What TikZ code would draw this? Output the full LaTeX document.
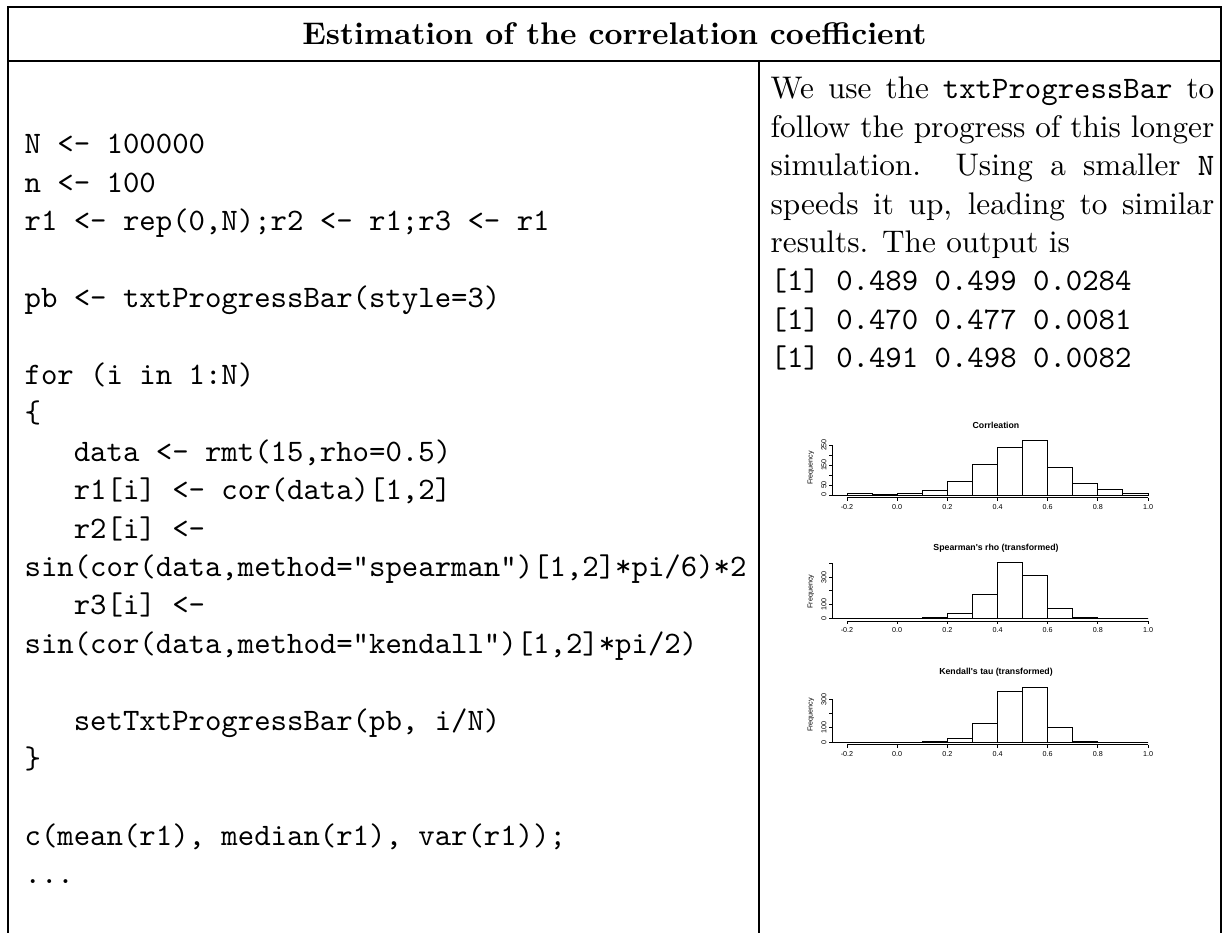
\documentclass[tikz,border=0pt]{standalone}
\usepackage{fontspec}
\newfontfamily\rsans{Liberation Sans}
\newcommand\myhist[8]{%
  \foreach \c [count=\i from 0] in {#4}{\draw[bar] ({847+25.083*\i},#2) rectangle ({872.083+25.083*\i},{#2-#3*\c});}
  \draw[bar] (832,#2) -- (1148,#2);
  \draw[bar] (832,#2) -- (832,{#2-#3*#5});
  \foreach \t in {0,#6,...,#5}{\draw[bar] (832,{#2-#3*\t}) -- (829,{#2-#3*\t});}
  \foreach \t in {#7}{\node[lbl,rotate=90] (#1y\t) at (824,{#2-#3*\t}) {\t};}
  \node[lbl,rotate=90] (#1f) at (811,{#2-27}) {Frequency};
  \draw[bar] (847,{#2+2.5}) -- (1148,{#2+2.5});
  \foreach \v/\l [count=\j] in {847/-0.2,897.2/0.0,947.3/0.2,997.5/0.4,1047.7/0.6,1097.8/0.8,1148/1.0}{%
    \draw[bar] (\v,{#2+2.5}) -- (\v,{#2+5.5});
    \node[lbl] (#1x\j) at (\v,{#2+12}) {\l};}
  \node[ttl] (#1t) at (996,{#2-70}) {#8};
}
\begin{document}
\begin{tikzpicture}[x=0.32pt,y=-0.32pt,
  code/.style={anchor=base west,inner sep=0pt,font=\ttfamily},
  txt/.style={anchor=base west,inner sep=0pt},
  rule/.style={line width=0.45pt},
  lbl/.style={inner sep=0pt,font=\rsans\fontsize{2.3}{2.8}\selectfont},
  ttl/.style={inner sep=0pt,font=\rsans\bfseries\fontsize{2.8}{3.3}\selectfont},
  bar/.style={line width=0.3pt}]
\useasboundingbox (0,0) rectangle (1222,933);
% table rules
\draw[rule] (8,933) -- (8,7) -- (1221,7) -- (1221,933);
\draw[rule] (8,61) -- (1221,61);
\draw[rule] (759,61) -- (759,933);
% title
\node[anchor=base,inner sep=0pt,font=\bfseries] (title) at (614.5,45) {Estimation of the correlation coefficient};
% code
\node[code] (c0) at (24,154) {N <- 100000};
\node[code] (c1) at (24,192.4) {n <- 100};
\node[code] (c2) at (24,230.8) {r1 <- rep(0,N);r2 <- r1;r3 <- r1};
\node[code] (c4) at (24,307.6) {pb <- txtProgressBar(style=3)};
\node[code] (c6) at (24,384.4) {for (i in 1:N)};
\node[code] (c7) at (24,422.8) {\{};
\node[code] (c8) at (73.2,461.2) {data <- rmt(15,rho=0.5)};
\node[code] (c9) at (73.2,499.6) {r1[i] <- cor(data)[1,2]};
\node[code] (c10) at (73.2,538) {r2[i] <-};
\node[code] (c11) at (24,576.4) {sin(cor(data,method="spearman")[1,2]*pi/6)*2};
\node[code] (c12) at (73.2,614.8) {r3[i] <-};
\node[code] (c13) at (24,653.2) {sin(cor(data,method="kendall")[1,2]*pi/2)};
\node[code] (c15) at (73.2,730) {setTxtProgressBar(pb, i/N)};
\node[code] (c16) at (24,768.4) {\}};
\node[code] (c18) at (24,845.2) {c(mean(r1), median(r1), var(r1));};
\node[code] (c19) at (24,883.6) {...};
% right column text
\node[txt] (p1) at (770,99) {\hbox to 142pt{We use the \texttt{txtProgressBar} to}};
\node[txt] (p2) at (770,137.4) {\hbox to 142pt{follow the progress of this longer}};
\node[txt] (p3) at (770,175.8) {\hbox to 142pt{simulation. Using a smaller \texttt{N}}};
\node[txt] (p4) at (770,214.2) {\hbox to 142pt{speeds it up, leading to similar}};
\node[txt] (p5) at (770,252.6) {results. The output is};
\node[code] (o1) at (770,291) {[1] 0.489 0.499 0.0284};
\node[code] (o2) at (770,329.4) {[1] 0.470 0.477 0.0081};
\node[code] (o3) at (770,367.8) {[1] 0.491 0.498 0.0082};
% histograms
\myhist{a}{495}{0.2}{8,3,8,25,70,155,237,275,138,60,28,7}{250}{50}{0,50,150,250}{Corrleation}
\myhist{b}{618.5}{0.138}{0,0,0,10,34,171,404,310,73,5,0,0}{400}{100}{0,100,300}{Spearman\textquotesingle s rho (transformed)}
\myhist{c}{742}{0.1417}{0,0,0,5,24,130,358,384,101,7,0,0}{300}{100}{0,100,300}{Kendall\textquotesingle s tau (transformed)}
\end{tikzpicture}
\end{document}
